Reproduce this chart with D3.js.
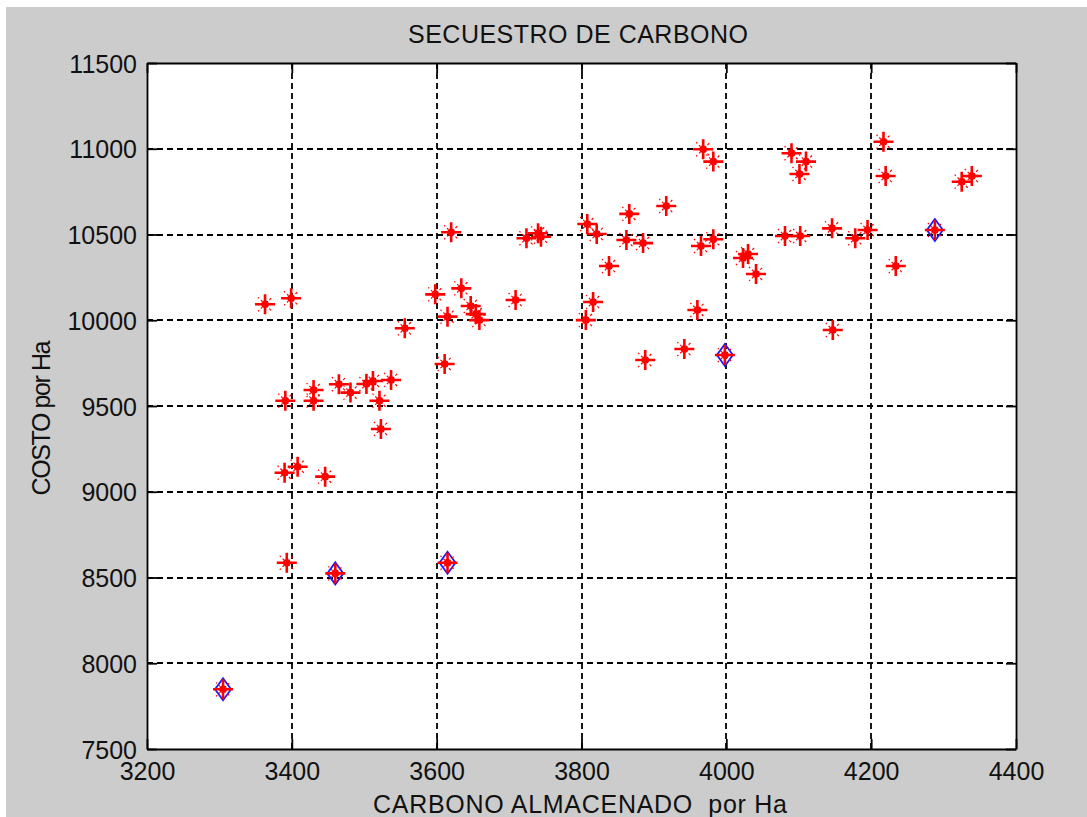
<!DOCTYPE html>
<html>
<head>
<meta charset="utf-8">
<script src="https://cdn.jsdelivr.net/npm/d3@7"></script>
<style>
  html, body { margin: 0; padding: 0; background: #ffffff; }
  svg { display: block; }
  text { font-family: "Liberation Sans", Arial, sans-serif; fill: #111; }
</style>
</head>
<body>
<svg id="chart" width="1087" height="817"></svg>
<script>
// ---- data ----
const carbono = [3363, 3399, 3391, 3430, 3430, 3390, 3408, 3446, 3393, 3465,
  3481, 3503, 3512, 3537, 3521, 3523, 3556, 3598, 3620, 3611,
  3615, 3634, 3647, 3654, 3659, 3709, 3724, 3740, 3744, 3808,
  3806, 3816, 3821, 3838, 3862, 3866, 3885, 3888, 3917, 3942,
  3960, 3965, 3982, 3968, 3982, 4023, 4030, 4041, 4081, 4090,
  4101, 4102, 4110, 4146, 4147, 4178, 4195, 4217, 4220, 4234,
  4325, 4339,
  3305, 3460, 3615, 3998, 4288];
const costo = [10093, 10128, 9531, 9593, 9531, 9111, 9146, 9088, 8586, 9627,
  9578, 9628, 9646, 9652, 9531, 9366, 9953, 10151, 10513, 9745,
  10021, 10186, 10083, 10036, 10001, 10118, 10478, 10507, 10487, 10561,
  10001, 10106, 10503, 10316, 10468, 10620, 10450, 9768, 10666, 9832,
  10060, 10433, 10472, 10997, 10925, 10363, 10386, 10270, 10491, 10974,
  10853, 10491, 10925, 10536, 9943, 10478, 10526, 11041, 10841, 10316,
  10808, 10841,
  7848, 8524, 8586, 9797, 10526];
// highlighted (blue diamond) points
const carbonoOpt = [3305, 3460, 3615, 3998, 4288];
const costoOpt = [7848, 8524, 8586, 9797, 10526];

const xTicks = [3200, 3400, 3600, 3800, 4000, 4200, 4400];
const yTicks = [7500, 8000, 8500, 9000, 9500, 10000, 10500, 11000, 11500];

const titleText = "SECUESTRO DE CARBONO";
const xLabelText = "CARBONO ALMACENADO  por Ha";
const yLabelText = "COSTO por Ha";

// ---- layout ----
const svg = d3.select("#chart");
const L = 147, R = 1016, T = 63, B = 749;

svg.append("rect").attr("x", 6).attr("y", 7).attr("width", 1081).attr("height", 810)
  .attr("fill", "#cccccc");

const x = d3.scaleLinear().domain([3200, 4400]).range([L, R]);
const y = d3.scaleLinear().domain([7500, 11500]).range([B, T]);

svg.append("rect").attr("x", L).attr("y", T).attr("width", R - L).attr("height", B - T)
  .attr("fill", "#ffffff");

// grid
const grid = svg.append("g").attr("stroke", "#000").attr("stroke-width", 1.8)
  .attr("stroke-dasharray", "6,4");
grid.selectAll("line.v").data(xTicks.slice(1, -1)).join("line")
  .attr("x1", d => Math.round(x(d))).attr("x2", d => Math.round(x(d)))
  .attr("y1", T).attr("y2", B);
grid.selectAll("line.h").data(yTicks.slice(1, -1)).join("line")
  .attr("y1", d => Math.round(y(d))).attr("y2", d => Math.round(y(d)))
  .attr("x1", L).attr("x2", R);

// axes (ticks inward on all sides)
const tk = 10;
const axB = d3.axisBottom(x).tickValues(xTicks).tickSizeInner(-tk).tickSizeOuter(0).tickPadding(tk + 6).tickFormat(d3.format("d"));
const axT = d3.axisTop(x).tickValues(xTicks).tickSizeInner(-tk).tickSizeOuter(0).tickFormat("");
const axLf = d3.axisLeft(y).tickValues(yTicks).tickSizeInner(-tk).tickSizeOuter(0).tickPadding(tk + 10).tickFormat(d3.format("d"));
const axRt = d3.axisRight(y).tickValues(yTicks).tickSizeInner(-tk).tickSizeOuter(0).tickFormat("");

function styleAxis(g) {
  g.select(".domain").attr("stroke", "#000").attr("stroke-width", 1.8);
  g.selectAll(".tick line").attr("stroke", "#000").attr("stroke-width", 1.8);
  g.selectAll(".tick text").attr("font-size", 25).attr("fill", "#222")
    .attr("font-family", '"Liberation Sans", Arial, sans-serif');
}
svg.append("g").attr("transform", `translate(0,${B})`).call(axB).call(styleAxis)
  .selectAll(".tick text").attr("dy", "0.71em").attr("y", 13);
svg.append("g").attr("transform", `translate(0,${T})`).call(axT).call(styleAxis);
svg.append("g").attr("transform", `translate(${L},0)`).call(axLf).call(styleAxis)
  .selectAll(".tick text").attr("x", -10).attr("dy", "0.36em");
svg.append("g").attr("transform", `translate(${R},0)`).call(axRt).call(styleAxis);

// markers
const pts = carbono.map((c, i) => ({ c, k: costo[i] }));
const opt = carbonoOpt.map((c, i) => ({ c, k: costoOpt[i] }));

svg.append("g").selectAll("path").data(opt).join("path")
  .attr("transform", d => `translate(${x(d.c)},${y(d.k)})`)
  .attr("d", "M0,-11L8,0L0,11L-8,0Z")
  .attr("fill", "none").attr("stroke", "#1a1aff").attr("stroke-width", 1.8);

const star = svg.append("g").selectAll("g").data(pts).join("g")
  .attr("transform", d => `translate(${x(d.c)},${y(d.k)})`);
star.append("path").attr("d", "M-10,0H10M0,-10V10")
  .attr("stroke", "#ff0000").attr("stroke-width", 2.6).attr("fill", "none");
star.append("path").attr("d", "M-7,-7L7,7M-7,7L7,-7")
  .attr("stroke", "#ff0000").attr("stroke-width", 1.2).attr("stroke-dasharray", "1.5,2.5,2,2.5,1.5")
  .attr("fill", "none");
star.append("circle").attr("r", 3.8).attr("fill", "#ff0000");

// labels
svg.append("text").attr("x", 578).attr("y", 43).attr("text-anchor", "middle")
  .attr("font-size", 25).attr("textLength", 340).text(titleText);
svg.append("text").attr("x", 580).attr("y", 813).attr("text-anchor", "middle")
  .attr("font-size", 25).attr("textLength", 414).attr("xml:space", "preserve").text(xLabelText);
svg.append("text").attr("transform", "translate(50,418) rotate(-90)").attr("text-anchor", "middle")
  .attr("font-size", 25).attr("textLength", 155).text(yLabelText);
</script>
</body>
</html>
